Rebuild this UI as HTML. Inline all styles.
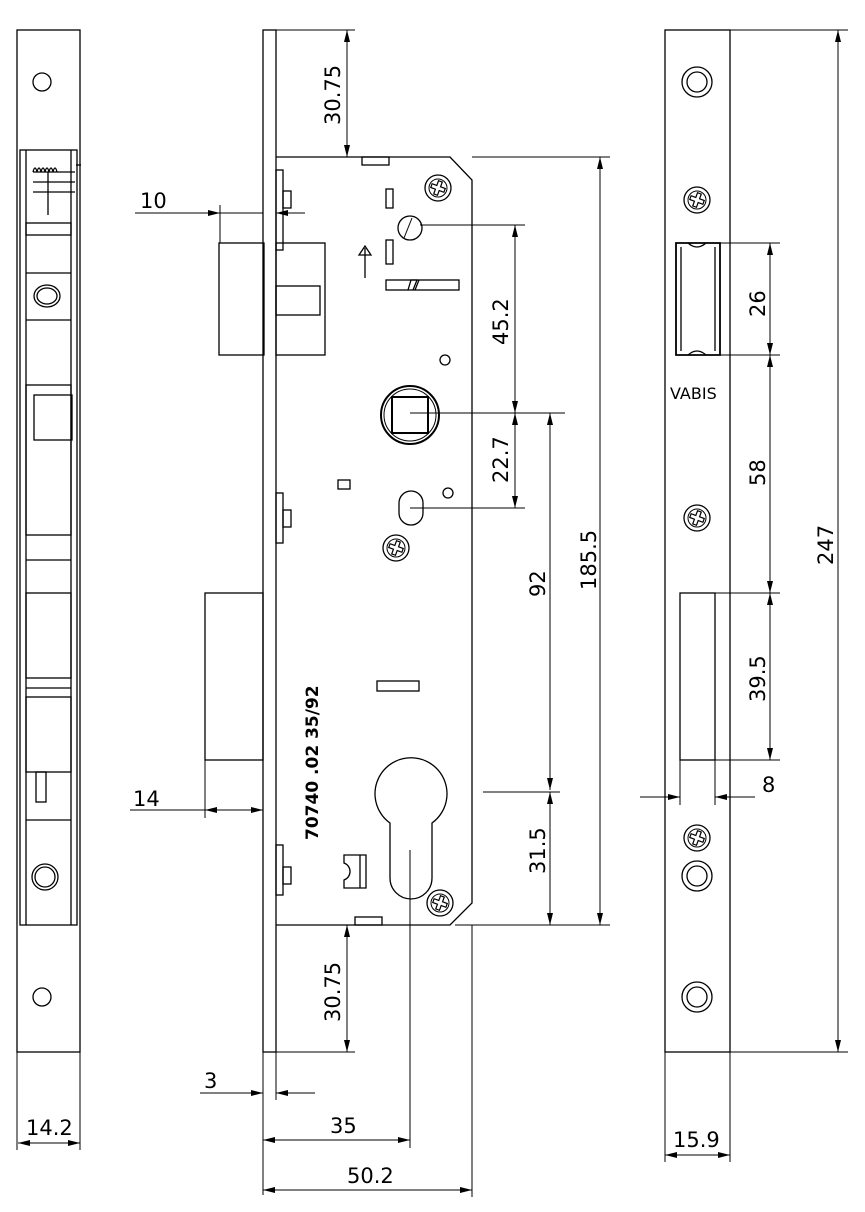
<!DOCTYPE html>
<html><head><meta charset="utf-8"><style>
html,body{margin:0;padding:0;background:#fff;}
svg{display:block}
text{font-family:"DejaVu Sans","Liberation Sans",sans-serif;font-size:21px;fill:#000}
</style></head><body>
<svg width="865" height="1212" viewBox="0 0 865 1212" xmlns="http://www.w3.org/2000/svg">
<defs>
<marker id="a" viewBox="0 0 12 6" refX="12" refY="3" markerWidth="12" markerHeight="6" orient="auto-start-reverse" markerUnits="userSpaceOnUse"><path d="M0,0 L12,3 L0,6 z" fill="#000"/></marker>
<g id="scr"><circle r="13" fill="none" stroke="#000" stroke-width="1.3"/><circle r="9" fill="none" stroke="#000" stroke-width="1"/><path d="M-2,-7 h4 v5 h5 v4 h-5 v5 h-4 v-5 h-5 v-4 h5 z" fill="none" stroke="#000" stroke-width="1.2" transform="rotate(20)"/></g>
</defs>
<g fill="none" stroke="#000" stroke-width="1.3">
<!-- LEFT VIEW -->
<rect x="17" y="30" width="63" height="1022"/>
<rect x="20" y="150" width="57" height="775"/>
<line x1="26" y1="150" x2="26" y2="925"/><line x1="71" y1="150" x2="71" y2="925"/>
<line x1="76" y1="165" x2="81" y2="165"/>
<circle cx="42" cy="82" r="9"/><circle cx="42" cy="997" r="9"/>
<path d="M33,172 q2,-8 4,0 q2,-8 4,0 q2,-8 4,0 q2,-8 4,0 q2,-8 4,0 q2,-8 4,0"/>
<line x1="33" y1="172" x2="75" y2="172"/><line x1="33" y1="182" x2="75" y2="182"/><line x1="33" y1="192" x2="75" y2="192"/>
<line x1="48" y1="172" x2="48" y2="215"/>
<rect x="26" y="223" width="45" height="12"/>
<line x1="26" y1="273" x2="71" y2="273"/><line x1="26" y1="320" x2="71" y2="320"/>
<ellipse cx="47" cy="296" rx="13" ry="11"/><ellipse cx="47" cy="296" rx="10" ry="8"/>
<rect x="26" y="385" width="45" height="150"/>
<rect x="34" y="395" width="38" height="45"/>
<line x1="26" y1="560" x2="71" y2="560"/>
<rect x="26" y="593" width="45" height="85"/>
<line x1="26" y1="688" x2="71" y2="688"/>
<rect x="26" y="697" width="45" height="75"/>
<rect x="36" y="772" width="10" height="30"/>
<line x1="26" y1="820" x2="71" y2="820"/>
<circle cx="45" cy="877" r="13"/><circle cx="45" cy="877" r="10"/>
<line x1="18" y1="1143" x2="80" y2="1143" marker-start="url(#a)" marker-end="url(#a)" stroke-width="1"/>
<line x1="17" y1="1052" x2="17" y2="1150" stroke-width="1"/><line x1="80" y1="1052" x2="80" y2="1150" stroke-width="1"/>

<!-- MIDDLE VIEW -->
<rect x="263" y="30" width="13" height="1022"/>
<path d="M276,157 H450 L472,180 V903 L450,925 H276"/>
<line x1="472" y1="157" x2="610" y2="157" stroke-width="1"/>
<line x1="455" y1="925" x2="610" y2="925" stroke-width="1"/>
<rect x="219" y="243" width="45" height="112"/>
<rect x="276" y="243" width="49" height="112"/>
<rect x="276" y="286" width="44" height="29"/>
<rect x="276" y="170" width="7" height="80"/><rect x="283" y="191" width="8" height="17"/>
<rect x="276" y="493" width="7" height="50"/><rect x="283" y="510" width="8" height="17"/>
<rect x="276" y="845" width="7" height="50"/><rect x="283" y="867" width="8" height="17"/>
<rect x="362" y="157" width="27" height="8"/>
<rect x="355" y="917" width="27" height="8"/>
<rect x="386" y="189" width="7" height="19"/>
<rect x="386" y="240" width="7" height="24"/>
<line x1="365" y1="278" x2="365" y2="248"/><path d="M359,255 L365,246 L371,255 z"/>
<rect x="386" y="280" width="73" height="10"/><path d="M408,290 l3,-10 l6,0 l-4,10 M415,290 l4,-10"/>
<circle cx="410" cy="228" r="12"/><path d="M404,238 l8,-20" stroke-width="1"/>
<circle cx="445" cy="360" r="5"/>
<circle cx="410" cy="415" r="29" stroke-width="2"/><circle cx="410" cy="415" r="26" stroke-width="1"/>
<rect x="392" y="397" width="36" height="36" stroke-width="2"/>
<rect x="338" y="480" width="12" height="9"/>
<circle cx="448" cy="493" r="5"/>
<rect x="399" y="491" width="24" height="34" rx="12"/>
<rect x="377" y="681" width="42" height="10"/>
<path d="M390,823 A36,36 0 1 1 432,823 V878 A21,21 0 0 1 390,878 Z"/>
<path d="M344,855 h22 v33 h-22 v-8 a9,9 0 0 0 0,-17 z M360,855 v33"/>
<rect x="205" y="593" width="58" height="167"/>
<!-- MIDDLE DIMS -->
<g stroke-width="1">
<line x1="347" y1="30" x2="347" y2="157" marker-start="url(#a)" marker-end="url(#a)"/>
<line x1="347" y1="925" x2="347" y2="1052" marker-start="url(#a)" marker-end="url(#a)"/>
<line x1="276" y1="30" x2="355" y2="30"/><line x1="276" y1="1052" x2="355" y2="1052"/>
<line x1="135" y1="213" x2="220" y2="213" marker-end="url(#a)"/>
<line x1="220" y1="213" x2="263" y2="213"/>
<line x1="305" y1="213" x2="276" y2="213" marker-end="url(#a)"/>
<line x1="220" y1="205" x2="220" y2="243"/>
<line x1="130" y1="810" x2="205" y2="810"/>
<line x1="205" y1="810" x2="263" y2="810" marker-start="url(#a)" marker-end="url(#a)"/>
<line x1="205" y1="760" x2="205" y2="818"/>
<line x1="263" y1="1052" x2="263" y2="1195"/><line x1="276" y1="1052" x2="276" y2="1100"/>
<line x1="200" y1="1093" x2="263" y2="1093" marker-end="url(#a)"/>
<line x1="315" y1="1093" x2="276" y2="1093" marker-end="url(#a)"/>
<line x1="263" y1="1140" x2="410" y2="1140" marker-start="url(#a)" marker-end="url(#a)"/>
<line x1="410" y1="850" x2="410" y2="1148"/>
<line x1="472" y1="925" x2="472" y2="1197"/>
<line x1="263" y1="1190" x2="472" y2="1190" marker-start="url(#a)" marker-end="url(#a)"/>
<line x1="600" y1="157" x2="600" y2="925" marker-start="url(#a)" marker-end="url(#a)"/>
<line x1="420" y1="225" x2="525" y2="225"/>
<line x1="515" y1="225" x2="515" y2="413" marker-start="url(#a)" marker-end="url(#a)"/>
<line x1="410" y1="413" x2="565" y2="413"/>
<line x1="515" y1="413" x2="515" y2="508" marker-start="url(#a)" marker-end="url(#a)"/>
<line x1="410" y1="508" x2="525" y2="508"/>
<line x1="550" y1="413" x2="550" y2="790" marker-start="url(#a)" marker-end="url(#a)"/>
<line x1="483" y1="792" x2="560" y2="792"/>
<line x1="550" y1="792" x2="550" y2="925" marker-start="url(#a)" marker-end="url(#a)"/>
</g>

<!-- RIGHT VIEW -->
<rect x="665" y="30" width="65" height="1022"/>
<line x1="730" y1="30" x2="848" y2="30" stroke-width="1"/><line x1="730" y1="1052" x2="848" y2="1052" stroke-width="1"/>
<circle cx="697" cy="82" r="15"/><circle cx="697" cy="82" r="10"/>
<circle cx="697" cy="876" r="15"/><circle cx="697" cy="876" r="10"/>
<circle cx="697" cy="997" r="15"/><circle cx="697" cy="997" r="10"/>
<path d="M676,243 h44 v112 h-44 z" stroke-width="1.8"/>
<path d="M681,247 v104 M715,247 v104"/>
<path d="M688,243 q9,8 18,0 M688,355 q9,-8 18,0"/>
<rect x="680" y="593" width="35" height="167"/>
<g stroke-width="1">
<line x1="720" y1="243" x2="780" y2="243"/><line x1="720" y1="355" x2="780" y2="355"/>
<line x1="715" y1="593" x2="780" y2="593"/><line x1="715" y1="760" x2="780" y2="760"/>
<line x1="770" y1="243" x2="770" y2="355" marker-start="url(#a)" marker-end="url(#a)"/>
<line x1="770" y1="355" x2="770" y2="593" marker-start="url(#a)" marker-end="url(#a)"/>
<line x1="770" y1="593" x2="770" y2="760" marker-start="url(#a)" marker-end="url(#a)"/>
<line x1="838" y1="30" x2="838" y2="1052" marker-start="url(#a)" marker-end="url(#a)"/>
<line x1="680" y1="760" x2="680" y2="805"/><line x1="715" y1="760" x2="715" y2="805"/>
<line x1="640" y1="797" x2="680" y2="797" marker-end="url(#a)"/>
<line x1="755" y1="797" x2="715" y2="797" marker-end="url(#a)"/>
<line x1="665" y1="1052" x2="665" y2="1162"/><line x1="730" y1="1052" x2="730" y2="1162"/>
<line x1="665" y1="1155" x2="730" y2="1155" marker-start="url(#a)" marker-end="url(#a)"/>
</g>
</g>
<use href="#scr" x="438" y="188"/>
<use href="#scr" x="396" y="548"/>
<use href="#scr" x="440" y="903"/>
<use href="#scr" x="697" y="200"/>
<use href="#scr" x="697" y="518"/>
<use href="#scr" x="697" y="838"/>

<text x="140" y="208">10</text>
<text x="133" y="806">14</text>
<text x="204" y="1088">3</text>
<text x="330" y="1133">35</text>
<text x="347" y="1183">50.2</text>
<text x="26" y="1135">14.2</text>
<text x="673" y="1147">15.9</text>
<text x="762" y="792">8</text>
<text x="670" y="399" style="font-size:16px">VABIS</text>
<g>
<text transform="translate(340,125) rotate(-90)">30.75</text>
<text transform="translate(340,1022) rotate(-90)">30.75</text>
<text transform="translate(508,345) rotate(-90)">45.2</text>
<text transform="translate(508,483) rotate(-90)">22.7</text>
<text transform="translate(545,597) rotate(-90)">92</text>
<text transform="translate(545,874) rotate(-90)">31.5</text>
<text transform="translate(596,590) rotate(-90)">185.5</text>
<text transform="translate(765,317) rotate(-90)">26</text>
<text transform="translate(765,486) rotate(-90)">58</text>
<text transform="translate(765,702) rotate(-90)">39.5</text>
<text transform="translate(833,565) rotate(-90)">247</text>
<text transform="translate(318,840) rotate(-90)" style="font-size:17px;font-weight:bold">70740 .02  35/92</text>
</g>
</svg>
</body></html>
